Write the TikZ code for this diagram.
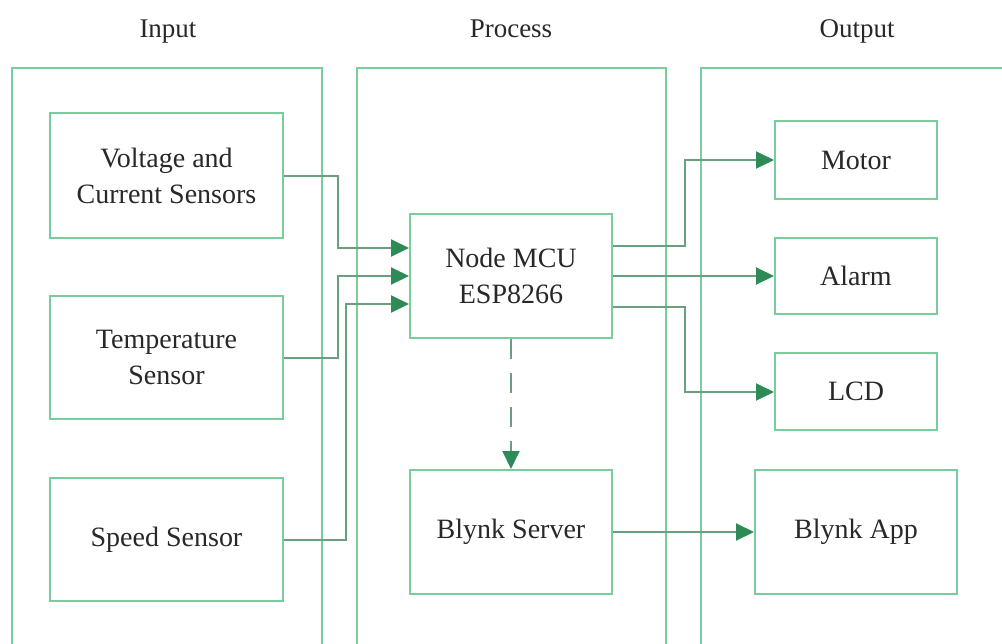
\documentclass[tikz,border=0pt]{standalone}
\usepackage{fontspec}
\setmainfont{Liberation Serif}
\usepackage{tikz}
\usetikzlibrary{
    arrows.meta,
    positioning
}
\definecolor{rahmen}{RGB}{120,205,155}
\definecolor{spitze}{RGB}{46,139,87}
\definecolor{leitung}{RGB}{105,160,128}
\definecolor{schrift}{RGB}{40,40,40}

\tikzstyle{block} = [
    draw=rahmen,
    line width=2pt,
    fill=white,
    text=schrift,
    align=center,
    inner sep=0pt,
    font=\fontsize{28}{36}\selectfont
]
\tikzstyle{titel} = [
    text=schrift,
    anchor=base,
    font=\fontsize{27}{32}\selectfont
]
\tikzstyle{arrow} = [
    draw=leitung,
    line width=2pt,
    -{Triangle[length=18pt,width=17pt,color=spitze]}
]

\begin{document}
\begin{tikzpicture}[x=1pt,y=-1pt]
\useasboundingbox (0,0) rectangle (1002,643);

% Spalten
\draw[rahmen, line width=2pt] (12,660) -- (12,68) -- (322,68) -- (322,660);
\draw[rahmen, line width=2pt] (357,660) -- (357,68) -- (666,68) -- (666,660);
\draw[rahmen, line width=2pt] (701,660) -- (701,68) -- (1020,68);

% Ueberschriften
\node[titel] (input) at (168,37) {Input};
\node[titel] (process) at (511,37) {Process};
\node[titel] (output) at (857,37) {Output};

% Eingaenge
\node[block, minimum width=233pt, minimum height=125pt] (volt) at (166.5,175.5)
    {Voltage and\\Current Sensors};
\node[block, minimum width=233pt, minimum height=123pt] (temp) at (166.5,357.5)
    {Temperature\\Sensor};
\node[block, minimum width=233pt, minimum height=123pt] (speed) at (166.5,539.5)
    {Speed Sensor};

% Verarbeitung
\node[block, minimum width=202pt, minimum height=124pt] (mcu) at (511,276)
    {Node MCU\\ESP8266};
\node[block, minimum width=202pt, minimum height=124pt] (server) at (511,532)
    {Blynk Server};

% Ausgaenge
\node[block, minimum width=162pt, minimum height=78pt] (motor) at (856,160) {Motor};
\node[block, minimum width=162pt, minimum height=76pt] (alarm) at (856,276) {Alarm};
\node[block, minimum width=162pt, minimum height=77pt] (lcd) at (856,391.5) {LCD};
\node[block, minimum width=202pt, minimum height=124pt] (app) at (856,532) {Blynk App};

% Verbindungen links
\draw[arrow] (volt.east |- 0,176) -| (338,248) -- (mcu.west |- 0,248);
\draw[arrow] (temp.east) -| (338,276) -- (mcu.west);
\draw[arrow] (speed.east) -| (346,304) -- (mcu.west |- 0,304);

% Verbindungen rechts
\draw[arrow] (mcu.east |- 0,246) -| (685,160) -- (motor.west);
\draw[arrow] (mcu.east) -- (alarm.west);
\draw[arrow] (mcu.east |- 0,307) -| (685,392) -- (lcd.west |- 0,392);
\draw[arrow] (server.east) -- (app.west);

% Server
\draw[arrow, dash pattern=on 20pt off 14pt] (mcu.south) -- (server.north);
\end{tikzpicture}
\end{document}
